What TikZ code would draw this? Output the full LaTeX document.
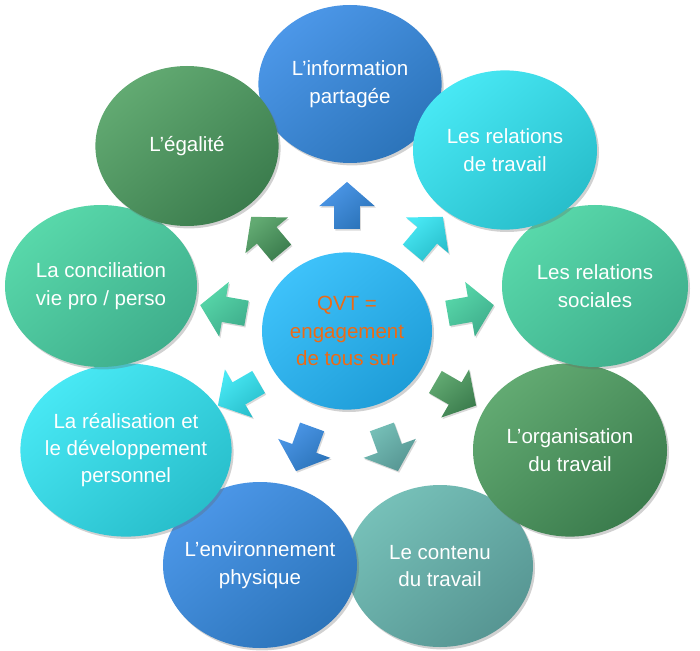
\documentclass[tikz,border=0pt]{standalone}
\usepackage{fontspec}
\setmainfont{Liberation Sans}
\usetikzlibrary{shapes.geometric,shapes.arrows,shadows}

\definecolor{blueA}{HTML}{4C97E8}
\definecolor{blueB}{HTML}{2C74BA}
\definecolor{cyanA}{HTML}{48E8F4}
\definecolor{cyanB}{HTML}{28BECB}
\definecolor{mintA}{HTML}{58D8AA}
\definecolor{mintB}{HTML}{3FAE8C}
\definecolor{greenA}{HTML}{62AA72}
\definecolor{greenB}{HTML}{3B7C4D}
\definecolor{tealA}{HTML}{76C0B8}
\definecolor{tealB}{HTML}{579693}
\definecolor{skyA}{HTML}{3EC2FA}
\definecolor{skyB}{HTML}{1F9DD8}
\definecolor{qvtorange}{HTML}{EE6A14}

\tikzset{
  bubble/.style 2 args={ellipse, inner sep=-.5cm, align=center, text=white,
    minimum width=4.65cm, minimum height=4.05cm,
    top color=#1, bottom color=#2, shading angle=40,
    drop shadow={shadow xshift=.05cm, shadow yshift=-.06cm, opacity=.3, fill=black!60},
    font=\fontsize{14.6}{19.5}\selectfont},
  blockarrow/.style 2 args={single arrow, inner xsep=0pt, inner ysep=.3125cm,
    single arrow head extend=.375cm, single arrow tip angle=98,
    minimum height=1.175cm, top color=#1, bottom color=#2, shading angle=40,
    drop shadow={shadow xshift=.03cm, shadow yshift=-.04cm, opacity=.25, fill=black!60}}
}

\begin{document}
\begin{tikzpicture}
  \useasboundingbox (-8.675,-7.975) rectangle (8.825,8.275);
  \def\ra{3}
  % outer bubbles, back to front
  \node[bubble={blueA}{blueB}, minimum width=4.58cm, minimum height=3.95cm] (info) at (0.075,6.175) {L’information\\partagée};
  \node[bubble={tealA}{tealB}] (contenu) at (2.325,-5.875) {Le contenu\\du travail};
  \node[bubble={greenA}{greenB}, minimum width=4.85cm, minimum height=4.33cm] (orga) at (5.575,-2.975) {L’organisation\\du travail};
  \node[bubble={mintA}{mintB}] (sociales) at (6.2,1.125) {Les relations\\sociales};
  \node[bubble={cyanA}{cyanB}, minimum width=4.6cm, minimum height=3.98cm] (travail) at (3.95,4.525) {Les relations\\de travail};
  \node[bubble={blueA}{blueB}, minimum width=4.85cm, minimum height=4.15cm] (envir) at (-2.175,-5.85) {L’environnement\\physique};
  \node[bubble={cyanA}{cyanB}, minimum width=5.28cm, minimum height=4.33cm] (perso) at (-5.525,-2.975) {La réalisation et\\le développement\\personnel};
  \node[bubble={mintA}{mintB}, minimum width=4.8cm] (concil) at (-6.15,1.125) {La conciliation\\vie pro / perso};
  \node[bubble={greenA}{greenB}, minimum width=4.58cm, minimum height=4.0cm] (egal) at (-4.0,4.625) {L’égalité};
  % centre
  \node[bubble={skyA}{skyB}, minimum width=4.25cm, minimum height=3.93cm, text=qvtorange] (qvt) at (0,0) {QVT =\\engagement\\de tous sur};
  % arrows
  \node[blockarrow={blueA}{blueB}, rotate=90] (a1) at (90:\ra) {};
  \node[blockarrow={cyanA}{cyanB}, rotate=50] (a2) at (50:\ra) {};
  \node[blockarrow={mintA}{mintB}, rotate=10] (a3) at (10:\ra) {};
  \node[blockarrow={greenA}{greenB}, rotate=-30] (a4) at (-30:\ra) {};
  \node[blockarrow={tealA}{tealB}, rotate=-70] (a5) at (-70:\ra) {};
  \node[blockarrow={blueA}{blueB}, rotate=-110] (a6) at (-110:\ra) {};
  \node[blockarrow={cyanA}{cyanB}, rotate=-150] (a7) at (-150:\ra) {};
  \node[blockarrow={mintA}{mintB}, rotate=170] (a8) at (170:\ra) {};
  \node[blockarrow={greenA}{greenB}, rotate=130] (a9) at (130:\ra) {};
\end{tikzpicture}
\end{document}
